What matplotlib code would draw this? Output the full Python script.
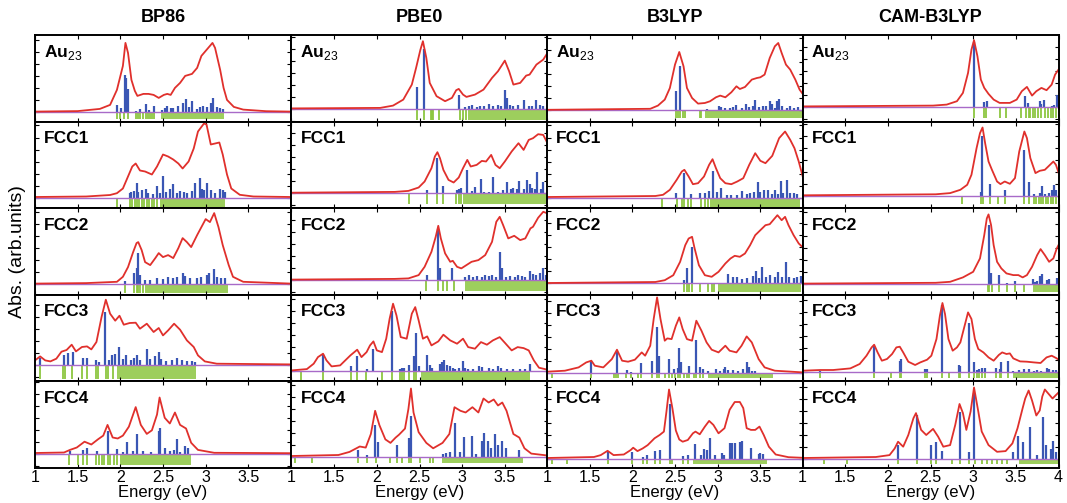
import matplotlib
matplotlib.use("Agg")
import matplotlib.pyplot as plt
from matplotlib.ticker import MultipleLocator, FixedLocator, FixedFormatter

plt.rcParams['font.family'] = ['Liberation Sans', 'DejaVu Sans']
plt.rcParams['mathtext.fontset'] = 'custom'
plt.rcParams['mathtext.rm'] = 'Liberation Sans'
plt.rcParams['mathtext.bf'] = 'Liberation Sans:bold'

FUNCTIONALS = ["BP86", "PBE0", "B3LYP", "CAM-B3LYP"]
CLUSTERS = [r"$\mathbf{Au}_{\mathrm{23}}$", "FCC1", "FCC2", "FCC3", "FCC4"]
XTICKS = [1, 1.5, 2, 2.5, 3, 3.5, 4]
XTICKLABELS = ["1", "1.5", "2", "2.5", "3", "3.5", "4"]

# ---- spectra: (energy eV, absorbance arb.) ----
# red = broadened spectrum, blue = oscillator strengths, green = all transitions

# BP86
bp86_au23_line = [(1.0, 0.3), (1.5, 0.8), (1.76, 3), (1.88, 7), (1.96, 22), (2.03, 46), (2.06, 69), (2.09, 59),
                  (2.13, 32), (2.17, 21), (2.20, 16), (2.27, 18), (2.33, 18), (2.39, 17), (2.45, 14), (2.51, 17),
                  (2.55, 18), (2.59, 17), (2.64, 24), (2.70, 29), (2.76, 36), (2.84, 38), (2.90, 44), (2.95, 56),
                  (3.01, 62), (3.05, 66), (3.08, 69), (3.11, 64), (3.17, 42), (3.21, 24), (3.25, 12), (3.33, 5),
                  (3.44, 2.3), (3.71, 0.7), (4.0, 0.3)]
bp86_au23_sticks = [(1.965, 7), (2.01, 3.7), (2.05, 37), (2.07, 34), (2.09, 23), (2.18, 1.3), (2.23, 3), (2.30, 8),
                    (2.34, 2.3), (2.39, 6), (2.49, 2.3), (2.52, 4), (2.55, 6), (2.59, 3.7), (2.62, 4), (2.68, 6),
                    (2.73, 9), (2.77, 13), (2.80, 5), (2.84, 11), (2.90, 3.3), (2.93, 4.7), (2.97, 5.7), (3.01, 5),
                    (3.06, 9), (3.09, 14), (3.13, 5), (3.17, 4), (3.20, 3.3)]
bp86_au23_green = [1.965, 2.0, 2.04, 2.09, 2.18, 2.21, 2.23, 2.27, 2.30, 2.32, 2.35, 2.37, 2.39]
bp86_au23_bands = [(2.48, 3.21)]

bp86_fcc1_line = [(1.0, 0.5), (1.6, 1), (1.88, 2.5), (1.96, 4.3), (2.03, 9), (2.09, 21), (2.14, 31), (2.18, 34),
                  (2.23, 27), (2.29, 26), (2.37, 23), (2.43, 31), (2.50, 43), (2.56, 41), (2.62, 38), (2.68, 34),
                  (2.73, 29), (2.80, 36), (2.86, 49), (2.91, 66), (2.98, 74), (3.01, 73), (3.06, 53), (3.11, 54),
                  (3.16, 55), (3.20, 43), (3.25, 23), (3.30, 9), (3.40, 2.7), (3.56, 1), (4.0, 0.5)]
bp86_fcc1_sticks = [(2.11, 5), (2.13, 6), (2.16, 6.7), (2.19, 15), (2.21, 6), (2.25, 7.3), (2.30, 8.7), (2.33, 5),
                    (2.38, 3.3), (2.43, 12), (2.46, 4.3), (2.50, 21.7), (2.54, 6), (2.58, 8.7), (2.62, 14),
                    (2.66, 4.3), (2.70, 6.7), (2.75, 6), (2.78, 5), (2.84, 6.7), (2.88, 15), (2.93, 20), (2.96, 8.3),
                    (2.98, 7.7), (3.02, 15), (3.06, 7.3), (3.11, 4.3), (3.17, 8.3), (3.20, 7.3), (3.23, 5.7)]
bp86_fcc1_green = [1.96, 2.11, 2.14, 2.17, 2.19, 2.22, 2.25, 2.28, 2.31, 2.34, 2.37, 2.40, 2.43]
bp86_fcc1_bands = [(2.46, 3.23)]

bp86_fcc2_line = [(1.0, 0.5), (1.6, 1), (1.96, 2.3), (2.03, 7.3), (2.09, 17), (2.15, 32), (2.19, 41), (2.21, 42),
                  (2.25, 34), (2.29, 22), (2.35, 19), (2.41, 26), (2.45, 31), (2.50, 27), (2.56, 29), (2.62, 26),
                  (2.68, 36), (2.73, 46), (2.78, 42), (2.83, 37), (2.90, 49), (2.95, 57), (3.00, 65), (3.05, 62),
                  (3.10, 71), (3.15, 57), (3.20, 39), (3.27, 19), (3.32, 7.3), (3.44, 2.3), (4.0, 0.5)]
bp86_fcc2_sticks = [(2.05, 3.3), (2.16, 11), (2.19, 16), (2.21, 31), (2.23, 9), (2.29, 4), (2.35, 4), (2.43, 5.7),
                    (2.50, 4.7), (2.56, 6.7), (2.62, 5.7), (2.66, 7), (2.73, 11), (2.76, 8.3), (2.82, 5.7),
                    (2.90, 6.3), (2.95, 7), (3.01, 9), (3.04, 10.7), (3.10, 14.7), (3.13, 7), (3.18, 6.3), (3.23, 5.7)]
bp86_fcc2_green = [2.05, 2.16, 2.19, 2.21, 2.23, 2.27]
bp86_fcc2_bands = [(2.29, 3.26)]

bp86_fcc3_line = [(1.0, 4.3), (1.06, 8.3), (1.12, 4.3), (1.18, 3.3), (1.25, 6), (1.31, 13), (1.37, 14.7), (1.43, 20),
                  (1.48, 13.3), (1.55, 17.7), (1.61, 18.3), (1.66, 15.3), (1.72, 22.7), (1.78, 47.7), (1.83, 65),
                  (1.88, 51), (1.94, 44), (1.99, 49), (2.04, 40), (2.11, 41.7), (2.18, 42), (2.23, 36), (2.31, 41),
                  (2.39, 32.7), (2.45, 36.7), (2.50, 29.3), (2.56, 34.3), (2.63, 41), (2.70, 35), (2.78, 24.3),
                  (2.86, 17.7), (2.91, 9.3), (2.99, 3.3), (3.13, 1), (4.0, 0.3)]
bp86_fcc3_sticks = [(1.06, 7), (1.34, 9.3), (1.39, 11.7), (1.44, 12.7), (1.56, 7), (1.61, 7), (1.71, 4.3),
                    (1.75, 2.7), (1.82, 53), (1.87, 5), (1.90, 9.3), (1.94, 11), (1.99, 17.7), (2.03, 6), (2.07, 9.3),
                    (2.12, 5), (2.16, 7), (2.19, 9.3), (2.23, 4.3), (2.31, 16), (2.35, 5.3), (2.41, 8.3),
                    (2.45, 12.7), (2.48, 6), (2.54, 3.3), (2.60, 4.3), (2.66, 6.7), (2.72, 4.3), (2.78, 3.7),
                    (2.84, 3.3), (2.88, 2.7)]
bp86_fcc3_green = [1.06, 1.33, 1.35, 1.43, 1.55, 1.61, 1.71, 1.74, 1.83, 1.85, 1.91]
bp86_fcc3_bands = [(1.96, 2.89)]

bp86_fcc4_line = [(1.0, 0.5), (1.34, 1), (1.41, 3.6), (1.49, 6), (1.58, 11.8), (1.66, 9), (1.74, 14.3), (1.80, 17.9),
                  (1.85, 28.6), (1.91, 16), (1.97, 15), (2.03, 17.9), (2.10, 26.8), (2.18, 46.4), (2.24, 28.6),
                  (2.31, 19.6), (2.37, 23.2), (2.43, 39), (2.46, 56), (2.52, 35.7), (2.58, 30), (2.64, 41),
                  (2.70, 28.6), (2.77, 25), (2.83, 10.7), (2.91, 3.6), (3.10, 0.7), (4.0, 0.3)]
bp86_fcc4_sticks = [(1.41, 2.5), (1.56, 3.6), (1.61, 6), (1.73, 2.5), (1.85, 23), (1.96, 4.6), (2.03, 1.8),
                    (2.08, 11.8), (2.15, 2.5), (2.19, 19.6), (2.26, 2.5), (2.36, 1.8), (2.45, 22.5), (2.47, 25.7),
                    (2.52, 5.4), (2.58, 2.9), (2.63, 3.6), (2.66, 15), (2.70, 1.8), (2.76, 7.9), (2.79, 6)]
bp86_fcc4_green = [1.40, 1.50, 1.56, 1.61, 1.72, 1.75, 1.78, 1.81, 1.85, 1.88, 1.92, 1.96]
bp86_fcc4_bands = [(2.0, 2.83)]

# PBE0
pbe0_au23_line = [(1.0, 0.5), (2.04, 1), (2.19, 3.3), (2.31, 9.3), (2.41, 24.3), (2.46, 41), (2.51, 59), (2.54, 67.7),
                  (2.58, 51), (2.62, 26), (2.70, 12.7), (2.80, 7.7), (2.88, 11), (2.93, 18.7), (2.96, 20),
                  (3.01, 14.3), (3.05, 12), (3.15, 14.3), (3.25, 19.3), (3.35, 31), (3.42, 37.7), (3.50, 48.3),
                  (3.55, 37.7), (3.60, 24.3), (3.68, 26), (3.75, 33.3), (3.79, 34.3), (3.87, 44.3), (3.95, 49.3),
                  (4.0, 56)]
pbe0_au23_sticks = [(2.47, 22), (2.55, 60), (2.96, 14.3), (3.03, 1.7), (3.08, 2.7), (3.12, 3.7), (3.17, 2),
                    (3.21, 3.3), (3.25, 3.3), (3.32, 5.3), (3.36, 3.3), (3.42, 3.7), (3.46, 3.3), (3.50, 19.3),
                    (3.53, 11), (3.56, 4.3), (3.60, 2.7), (3.65, 4.3), (3.73, 9.3), (3.78, 3.3), (3.82, 3.3),
                    (3.87, 9.3), (3.91, 4.3), (3.95, 3.3)]
pbe0_au23_green = [2.47, 2.55, 2.63, 2.65, 2.66, 2.73, 2.97, 3.01, 3.05]
pbe0_au23_bands = [(3.07, 4.0)]

pbe0_fcc1_line = [(1.0, 0.5), (2.21, 1.3), (2.37, 2.3), (2.49, 5.7), (2.56, 11.7), (2.64, 25), (2.68, 36.7), (2.71, 41),
                  (2.74, 35), (2.78, 23.3), (2.84, 13.3), (2.90, 10.7), (2.96, 15.7), (3.01, 25), (3.06, 33.3),
                  (3.10, 26.7), (3.17, 28.3), (3.23, 32.3), (3.28, 31.7), (3.34, 38.3), (3.39, 28.3), (3.44, 25),
                  (3.50, 31.7), (3.58, 41.7), (3.66, 50), (3.72, 43.3), (3.78, 53.3), (3.83, 55), (3.89, 59),
                  (3.95, 58.3), (4.0, 50)]
pbe0_fcc1_sticks = [(2.59, 3.3), (2.71, 35), (2.78, 7.7), (2.94, 3.3), (2.96, 4), (2.99, 5), (3.06, 23.3), (3.12, 2.3),
                    (3.15, 6.7), (3.22, 14), (3.26, 1.7), (3.31, 1.7), (3.36, 16), (3.42, 1.7), (3.48, 3.3),
                    (3.52, 11), (3.57, 4.3), (3.60, 5), (3.64, 4), (3.67, 12.7), (3.72, 4), (3.76, 13.3), (3.79, 9),
                    (3.82, 5), (3.85, 4), (3.88, 21), (3.92, 4.3), (3.95, 11.7)]
pbe0_fcc1_green = [2.38, 2.59, 2.71, 2.77, 2.93, 2.96, 2.99]
pbe0_fcc1_bands = [(3.01, 3.99)]

pbe0_fcc2_line = [(1.0, 0.5), (2.21, 1.2), (2.37, 1.7), (2.49, 5), (2.56, 13.3), (2.64, 28.3), (2.69, 43.3), (2.72, 54.3),
                  (2.75, 41.7), (2.80, 26.7), (2.86, 18.3), (2.89, 19.3), (2.94, 13.3), (2.99, 11.7), (3.05, 15),
                  (3.11, 18.3), (3.19, 20), (3.27, 25), (3.35, 38.3), (3.40, 58.3), (3.44, 63.3), (3.48, 55),
                  (3.54, 41.7), (3.61, 44.3), (3.68, 40), (3.74, 41.7), (3.80, 51.7), (3.83, 53.3), (3.89, 62.3),
                  (3.95, 68.3), (4.0, 66.7)]
pbe0_fcc2_sticks = [(2.59, 5), (2.72, 51), (2.74, 11.7), (2.88, 11.7), (3.03, 2.7), (3.08, 5), (3.13, 3.3), (3.17, 4.3),
                    (3.23, 2.7), (3.27, 5), (3.31, 4.3), (3.35, 5), (3.40, 3.3), (3.44, 28.3), (3.47, 11.7),
                    (3.51, 2.7), (3.56, 4.3), (3.62, 3.3), (3.66, 5), (3.70, 4.3), (3.74, 2.7), (3.79, 9), (3.83, 5.7),
                    (3.87, 5), (3.91, 6.7), (3.95, 11.7), (3.98, 5)]
pbe0_fcc2_green = [2.58, 2.72, 2.78, 2.82, 2.90]
pbe0_fcc2_bands = [(3.03, 3.99)]

pbe0_fcc3_line = [(1.0, 1), (1.18, 2.3), (1.26, 7.7), (1.31, 14.3), (1.37, 17.7), (1.41, 11), (1.47, 5), (1.57, 6),
                  (1.69, 16), (1.77, 21.7), (1.82, 14.3), (1.88, 19.3), (1.92, 26), (1.96, 30), (2.00, 21),
                  (2.06, 19.3), (2.11, 32.7), (2.15, 52.7), (2.19, 67.7), (2.23, 56), (2.28, 34.3), (2.35, 32.7),
                  (2.41, 57.7), (2.45, 64.3), (2.49, 51), (2.54, 32.7), (2.59, 35), (2.64, 26), (2.72, 30),
                  (2.78, 36.7), (2.86, 31), (2.94, 27.7), (3.01, 32.7), (3.07, 24.3), (3.15, 22.7), (3.22, 29.3),
                  (3.29, 26.7), (3.36, 31), (3.44, 34.3), (3.51, 27.7), (3.58, 21), (3.65, 24.3), (3.72, 23.3),
                  (3.78, 21), (3.84, 11), (3.90, 3.7), (4.0, 1.7)]
pbe0_fcc3_sticks = [(1.37, 17), (1.70, 5), (1.77, 15), (1.88, 2), (1.96, 22.7), (2.18, 60), (2.27, 2.7), (2.29, 3.3),
                    (2.32, 3.7), (2.38, 6), (2.44, 15), (2.46, 38.3), (2.49, 5.3), (2.59, 16.7), (2.62, 6),
                    (2.65, 3.7), (2.74, 7.7), (2.76, 9.3), (2.79, 11), (2.82, 6), (2.86, 5), (2.89, 3.7), (2.92, 2.7),
                    (2.96, 3.7), (3.01, 10), (3.03, 3.7), (3.07, 2.7), (3.13, 2.7), (3.20, 5.3), (3.23, 4.3),
                    (3.31, 3.7), (3.36, 2.7), (3.42, 5.3), (3.46, 3.7), (3.52, 2.7), (3.60, 2), (3.68, 2.7),
                    (3.74, 2), (3.79, 7)]
pbe0_fcc3_green = [1.11, 1.37, 1.70, 1.77, 1.87, 2.06, 2.18, 2.27, 2.30, 2.32, 2.38, 2.44, 2.46]
pbe0_fcc3_bands = [(2.52, 3.79)]

pbe0_fcc4_line = [(1.0, 0.5), (1.55, 1.5), (1.68, 4.6), (1.76, 8.2), (1.80, 10), (1.87, 8.9), (1.93, 22.5), (1.98, 45.7),
                  (2.03, 31.4), (2.10, 17.1), (2.16, 13.6), (2.22, 18.9), (2.26, 21.8), (2.33, 27.9), (2.37, 47.5),
                  (2.40, 68), (2.43, 44), (2.49, 24.3), (2.58, 13.6), (2.66, 8.2), (2.77, 13.6), (2.85, 22.5),
                  (2.91, 49.3), (2.98, 45.7), (3.04, 44), (3.12, 49.3), (3.19, 44), (3.25, 58), (3.31, 54),
                  (3.37, 57), (3.42, 51), (3.47, 54), (3.52, 45.7), (3.60, 22.5), (3.67, 18.9), (3.73, 8.2),
                  (3.81, 2.9), (4.0, 1)]
pbe0_fcc4_sticks = [(1.78, 6.4), (1.89, 1.8), (1.98, 31.4), (2.01, 14.3), (2.24, 11.8), (2.38, 19), (2.40, 40.4),
                    (2.77, 2.9), (2.81, 3.6), (2.86, 4.6), (2.92, 34), (2.98, 4.6), (3.02, 20), (3.12, 20.7),
                    (3.16, 2.9), (3.23, 16), (3.26, 23.2), (3.30, 15.4), (3.34, 8.2), (3.39, 22.5), (3.42, 11.8),
                    (3.47, 16), (3.51, 8.2), (3.67, 6.4)]
pbe0_fcc4_green = [1.04, 1.24, 1.78, 1.89, 1.99, 2.15, 2.24, 2.29, 2.38, 2.40, 2.51, 2.62, 2.66]
pbe0_fcc4_bands = [(2.76, 3.71)]

# B3LYP
b3lyp_au23_line = [(1.0, 0.5), (2.21, 1.5), (2.30, 4.7), (2.38, 10.7), (2.44, 22.3), (2.50, 45.7), (2.55, 58.3),
                   (2.60, 44), (2.64, 22.3), (2.70, 12.3), (2.77, 6.7), (2.85, 7.3), (2.91, 9), (2.98, 13),
                   (3.03, 14.7), (3.09, 13), (3.16, 18), (3.22, 24), (3.26, 21.3), (3.32, 23.3), (3.40, 30.7),
                   (3.46, 32.3), (3.50, 33), (3.55, 35.7), (3.61, 52.3), (3.67, 64), (3.71, 67.3), (3.75, 57.3),
                   (3.80, 45.7), (3.85, 40.7), (3.91, 30.7), (3.96, 20.7), (4.0, 16)]
b3lyp_au23_sticks = [(2.51, 19.7), (2.56, 44), (2.87, 1.3), (3.01, 4), (3.04, 3.3), (3.09, 2.3), (3.14, 2), (3.18, 3.3),
                     (3.22, 5.7), (3.28, 2.3), (3.33, 6.3), (3.37, 3.3), (3.41, 4), (3.44, 10), (3.48, 3.3),
                     (3.53, 4), (3.57, 4), (3.61, 9), (3.64, 6.3), (3.67, 2.3), (3.70, 9), (3.72, 11.7), (3.75, 4.7),
                     (3.81, 2.3), (3.85, 4), (3.89, 2.3), (3.94, 3.3)]
b3lyp_au23_green = [2.51, 2.54, 2.56, 2.59, 2.62, 2.79, 2.81]
b3lyp_au23_bands = [(2.85, 3.99)]

b3lyp_fcc1_line = [(1.0, 0.5), (2.27, 1.5), (2.36, 2.7), (2.44, 7.7), (2.52, 17.7), (2.58, 26), (2.61, 27.7),
                   (2.66, 21), (2.71, 13.3), (2.77, 14.3), (2.84, 21), (2.90, 32.7), (2.94, 38.3), (2.98, 29.3),
                   (3.03, 19.3), (3.09, 14.3), (3.16, 13.3), (3.23, 16), (3.30, 19.3), (3.37, 32.7), (3.44, 44.3),
                   (3.50, 36.7), (3.56, 34.3), (3.64, 41.7), (3.72, 59.3), (3.79, 66), (3.85, 57.7), (3.90, 49.3),
                   (3.95, 36), (4.0, 20)]
b3lyp_fcc1_sticks = [(2.51, 5), (2.61, 24.3), (2.69, 3.3), (2.79, 4.3), (2.85, 4.3), (2.90, 6.7), (2.94, 26.7),
                     (2.99, 6), (3.04, 10), (3.11, 2.7), (3.16, 2.7), (3.23, 2.7), (3.28, 6.7), (3.34, 3.3), (3.38, 5),
                     (3.42, 6), (3.47, 15.3), (3.50, 6), (3.54, 7.7), (3.59, 7.7), (3.64, 3.3), (3.67, 7.7),
                     (3.71, 3.3), (3.74, 16.7), (3.77, 4.3), (3.81, 17.7), (3.85, 4.3), (3.89, 5), (3.93, 3.3)]
b3lyp_fcc1_green = [2.35, 2.52, 2.58, 2.61, 2.65, 2.69, 2.81, 2.85, 2.89]
b3lyp_fcc1_bands = [(2.91, 3.97)]

b3lyp_fcc2_line = [(1.0, 0.5), (2.27, 1.5), (2.38, 3.3), (2.48, 8.3), (2.56, 21.7), (2.62, 38.3), (2.66, 45),
                   (2.70, 46.7), (2.73, 35), (2.78, 18.3), (2.85, 8.3), (2.93, 6.7), (3.01, 11.7), (3.09, 20),
                   (3.15, 25), (3.20, 27.7), (3.26, 26.7), (3.32, 30), (3.38, 38.3), (3.44, 48.3), (3.50, 53.3),
                   (3.56, 58.3), (3.61, 59.3), (3.65, 63.3), (3.70, 68.3), (3.75, 63.3), (3.79, 66.7), (3.83, 58.3),
                   (3.89, 48.3), (3.95, 40), (4.0, 36)]
b3lyp_fcc2_sticks = [(2.60, 3.3), (2.64, 15.7), (2.70, 36.7), (3.12, 9.3), (3.18, 6), (3.23, 6.7), (3.28, 4.3),
                     (3.34, 5.7), (3.41, 7.7), (3.45, 12.3), (3.48, 5), (3.52, 16), (3.57, 6), (3.61, 8.3),
                     (3.67, 6.7), (3.71, 11.7), (3.75, 6.7), (3.80, 21.7), (3.84, 6), (3.89, 5), (3.93, 6), (3.98, 7.3)]
b3lyp_fcc2_green = [2.60, 2.64, 2.66, 2.70, 2.79, 2.89, 2.93, 2.96]
b3lyp_fcc2_bands = [(3.0, 3.98)]

b3lyp_fcc3_line = [(1.0, 1.7), (1.21, 2.7), (1.37, 6), (1.46, 11), (1.52, 12.7), (1.56, 7.7), (1.66, 6), (1.76, 14.3),
                   (1.82, 23.7), (1.88, 12.7), (1.95, 11.7), (2.03, 13.7), (2.11, 21), (2.15, 17.7), (2.21, 27.7),
                   (2.25, 54.3), (2.29, 76), (2.33, 54.3), (2.38, 32.7), (2.41, 35), (2.46, 34.3), (2.51, 47.7),
                   (2.55, 56), (2.59, 44.3), (2.64, 34.3), (2.70, 32.7), (2.75, 52.7), (2.81, 42.7), (2.87, 31),
                   (2.93, 23.7), (3.01, 21), (3.09, 27.7), (3.14, 22.7), (3.22, 21), (3.28, 27.7), (3.34, 37),
                   (3.40, 31), (3.48, 14.3), (3.55, 6), (3.67, 2.7), (4.0, 1)]
b3lyp_fcc3_sticks = [(1.52, 12.7), (1.82, 21.7), (1.94, 3.3), (1.98, 1.7), (2.10, 10.3), (2.23, 12.7), (2.29, 46.7),
                     (2.31, 17.7), (2.43, 14.3), (2.49, 4.3), (2.53, 5), (2.55, 25), (2.57, 11.7), (2.66, 7.7),
                     (2.75, 33.3), (2.79, 6), (2.83, 4.3), (2.89, 2.7), (2.98, 4.3), (3.03, 2.7), (3.07, 4.3),
                     (3.09, 6.7), (3.12, 3.7), (3.18, 3.7), (3.24, 2.7), (3.30, 4.3), (3.34, 11), (3.37, 6),
                     (3.40, 2.7), (3.44, 2)]
b3lyp_fcc3_green = [1.06, 1.52, 1.78, 1.81, 1.83, 1.92, 1.98, 2.07, 2.10, 2.23, 2.29, 2.31, 2.38, 2.43, 2.46, 2.50,
                    2.53, 2.56, 2.60, 2.64, 2.66, 2.72, 2.75, 2.79, 2.83]
b3lyp_fcc3_bands = [(2.89, 3.65)]

b3lyp_fcc4_line = [(1.0, 0.5), (1.55, 1.5), (1.63, 3.4), (1.71, 7.7), (1.78, 3.4), (1.90, 4), (1.98, 8.4), (2.01, 10.8),
                   (2.06, 7.4), (2.12, 10), (2.18, 13.4), (2.26, 20.2), (2.32, 23.5), (2.37, 26.9), (2.40, 47),
                   (2.43, 69), (2.47, 50), (2.51, 28), (2.55, 19), (2.59, 16.8), (2.65, 18.5), (2.71, 25.2),
                   (2.74, 26.9), (2.79, 24.2), (2.85, 31.9), (2.90, 37.6), (2.95, 33.6), (3.01, 25.2), (3.08, 30.3),
                   (3.14, 48.7), (3.20, 56.5), (3.26, 56.5), (3.30, 50.4), (3.34, 30.3), (3.39, 28.6), (3.44, 28.6),
                   (3.49, 31.9), (3.54, 23.5), (3.60, 11.8), (3.68, 4), (3.83, 1.3), (4.0, 0.7)]
b3lyp_fcc4_sticks = [(1.71, 6.7), (2.0, 6.7), (2.12, 1.7), (2.17, 3.4), (2.26, 7.7), (2.32, 8.4), (2.44, 55),
                     (2.59, 2.4), (2.65, 3.4), (2.74, 14.1), (2.80, 3.4), (2.84, 10), (2.87, 8.4), (2.91, 20.2),
                     (2.97, 4), (3.05, 5.7), (3.07, 4), (3.14, 15.1), (3.17, 15.1), (3.20, 15.1), (3.26, 16.8),
                     (3.28, 17.8), (3.39, 10.8), (3.48, 5), (3.50, 5.7), (3.53, 5)]
b3lyp_fcc4_green = [1.06, 1.24, 1.71, 2.00, 2.12, 2.17, 2.26, 2.32, 2.44, 2.47, 2.59, 2.65]
b3lyp_fcc4_bands = [(2.71, 3.58)]

# CAM-B3LYP
cam_au23_line = [(1.0, 0.5), (2.53, 1.3), (2.69, 2.3), (2.81, 5.7), (2.88, 14), (2.94, 34), (2.98, 57.3), (3.01, 66.7),
                 (3.05, 50.7), (3.09, 27.3), (3.13, 19), (3.18, 13), (3.24, 7.3), (3.31, 4), (3.43, 4), (3.51, 7.3),
                 (3.57, 15.7), (3.63, 20), (3.69, 11.3), (3.74, 15.7), (3.80, 19), (3.86, 16.7), (3.92, 22.3),
                 (3.96, 32.3), (4.0, 37.3)]
cam_au23_sticks = [(3.01, 64.7), (3.13, 4.7), (3.16, 5.7), (3.61, 11.3), (3.64, 4), (3.78, 5.7), (3.80, 3.3),
                   (3.83, 7.3), (3.92, 1.3), (3.95, 2.3), (3.98, 12.3)]
cam_au23_green = [3.01, 3.13, 3.15, 3.31, 3.39, 3.56, 3.62, 3.65, 3.67, 3.70, 3.72, 3.76, 3.80, 3.84, 3.88, 3.91,
                  3.94, 3.97, 4.0]
cam_au23_bands = []

cam_fcc1_line = [(1.0, 0.5), (2.56, 1.5), (2.73, 2.7), (2.85, 6), (2.93, 11), (2.98, 21), (3.04, 47.7), (3.08, 62.7),
                 (3.11, 68.3), (3.14, 52.7), (3.18, 34.3), (3.22, 26), (3.28, 14.3), (3.32, 11.7), (3.37, 14.3),
                 (3.43, 12), (3.49, 17.7), (3.54, 44.3), (3.60, 64.3), (3.63, 57.7), (3.67, 37.7), (3.73, 22.7),
                 (3.78, 25), (3.84, 26), (3.88, 29.3), (3.94, 34.3), (3.97, 31), (4.0, 23.3)]
cam_fcc1_sticks = [(3.09, 4.3), (3.10, 60.3), (3.20, 12), (3.37, 6), (3.59, 46), (3.65, 13.7), (3.71, 2), (3.78, 2.7),
                   (3.81, 10), (3.84, 1.7), (3.89, 3.3), (3.92, 6), (3.95, 11), (3.97, 6)]
cam_fcc1_green = [2.87, 3.09, 3.11, 3.20, 3.29, 3.37, 3.59, 3.65, 3.71, 3.74, 3.77, 3.80, 3.82, 3.85, 3.88, 3.91,
                  3.94, 3.97, 4.0]
cam_fcc1_bands = []

cam_fcc2_line = [(1.0, 0.5), (2.56, 1.3), (2.73, 2.3), (2.88, 6.7), (3.00, 12.3), (3.08, 25.7), (3.13, 49), (3.16, 65.7),
                 (3.18, 69.7), (3.21, 59), (3.24, 39), (3.28, 22.3), (3.33, 15.7), (3.39, 10.7), (3.47, 9),
                 (3.53, 9), (3.58, 6.7), (3.63, 9), (3.69, 17.3), (3.75, 29), (3.79, 35), (3.84, 29), (3.89, 22.3),
                 (3.94, 25.7), (3.98, 35.7), (4.0, 39)]
cam_fcc2_sticks = [(3.18, 59), (3.21, 10.7), (3.30, 9), (3.40, 1.3), (3.49, 3), (3.70, 4.7), (3.73, 2.3), (3.75, 3),
                   (3.78, 8), (3.81, 9.7), (3.86, 4), (3.89, 4.7), (3.98, 5.7)]
cam_fcc2_green = [3.17, 3.19, 3.22, 3.30, 3.40, 3.49, 3.60]
cam_fcc2_bands = [(3.70, 4.0)]

cam_fcc3_line = [(1.0, 1), (1.21, 1.7), (1.36, 1.7), (1.56, 3.3), (1.67, 7.7), (1.75, 16), (1.81, 24.3), (1.84, 27),
                 (1.88, 19.3), (1.93, 11), (1.99, 12.7), (2.05, 17.7), (2.10, 24.3), (2.14, 25), (2.18, 19.3),
                 (2.24, 10), (2.32, 6.7), (2.38, 9.3), (2.46, 12), (2.51, 16), (2.57, 32.7), (2.61, 56),
                 (2.64, 68.7), (2.67, 57.7), (2.71, 32.7), (2.76, 21), (2.81, 24.3), (2.85, 29.3), (2.90, 46),
                 (2.94, 59.3), (2.98, 52.7), (3.02, 32.7), (3.06, 22.7), (3.12, 19.3), (3.18, 14.3), (3.24, 11),
                 (3.30, 16.7), (3.34, 19.3), (3.39, 17.7), (3.43, 18.3), (3.47, 13.3), (3.55, 10.3), (3.63, 10),
                 (3.71, 9.3), (3.79, 8.7), (3.86, 14.3), (3.92, 16), (3.98, 13.3), (4.0, 12)]
cam_fcc3_sticks = [(1.21, 1), (1.84, 26), (2.14, 11), (2.16, 12.7), (2.43, 2.7), (2.46, 2.7), (2.64, 66.7), (2.83, 7),
                   (2.84, 6), (2.95, 48.7), (3.01, 10), (3.04, 2), (3.07, 2.7), (3.10, 3.3), (3.14, 3.3), (3.27, 3.3),
                   (3.31, 2.7), (3.33, 9.3), (3.41, 11), (3.47, 1), (3.54, 2), (3.59, 2.7), (3.65, 2.7), (3.71, 1),
                   (3.75, 1.7), (3.80, 1), (3.86, 3.3), (3.89, 2.7), (3.93, 2), (3.97, 2)]
cam_fcc3_green = [1.21, 1.84, 2.04, 2.14, 2.16, 2.43, 2.46, 2.64, 2.72, 2.83, 2.84, 2.95, 3.01, 3.04, 3.07, 3.10,
                  3.14, 3.27, 3.31, 3.33, 3.41]
cam_fcc3_bands = [(3.47, 4.0)]

cam_fcc4_line = [(1.0, 0.5), (1.86, 1.5), (2.02, 3.4), (2.08, 10), (2.12, 16.8), (2.18, 11.8), (2.24, 23.5),
                 (2.30, 40.3), (2.33, 45.4), (2.39, 28.6), (2.45, 23.5), (2.53, 29.6), (2.59, 21.8), (2.65, 11.8),
                 (2.73, 13.4), (2.79, 33.6), (2.84, 54.5), (2.88, 45.4), (2.92, 28.6), (2.97, 47), (3.01, 71),
                 (3.06, 47), (3.10, 27), (3.18, 13.4), (3.28, 6.7), (3.38, 7.4), (3.46, 15.1), (3.52, 30.3),
                 (3.58, 50.4), (3.61, 60), (3.65, 68), (3.69, 58), (3.74, 43), (3.78, 48), (3.81, 62), (3.84, 69),
                 (3.89, 64), (3.93, 60), (4.0, 66)]
cam_fcc4_sticks = [(2.12, 13.4), (2.34, 43.7), (2.51, 13.4), (2.56, 16.8), (2.64, 7.4), (2.84, 47), (2.95, 6.7),
                   (3.01, 66), (3.47, 6.7), (3.53, 22.8), (3.58, 16.8), (3.67, 32), (3.75, 3.4), (3.82, 41.3),
                   (3.85, 13.4), (3.91, 10), (3.93, 17.5), (3.97, 6.7)]
cam_fcc4_green = [1.25, 1.52, 2.12, 2.34, 2.51, 2.56, 2.75, 2.84, 2.95, 3.02, 3.10, 3.16, 3.22, 3.28, 3.34, 3.40]
cam_fcc4_bands = [(3.54, 4.0)]

SPECTRA = [
    [(bp86_au23_line, bp86_au23_sticks, bp86_au23_green, bp86_au23_bands),
     (bp86_fcc1_line, bp86_fcc1_sticks, bp86_fcc1_green, bp86_fcc1_bands),
     (bp86_fcc2_line, bp86_fcc2_sticks, bp86_fcc2_green, bp86_fcc2_bands),
     (bp86_fcc3_line, bp86_fcc3_sticks, bp86_fcc3_green, bp86_fcc3_bands),
     (bp86_fcc4_line, bp86_fcc4_sticks, bp86_fcc4_green, bp86_fcc4_bands)],
    [(pbe0_au23_line, pbe0_au23_sticks, pbe0_au23_green, pbe0_au23_bands),
     (pbe0_fcc1_line, pbe0_fcc1_sticks, pbe0_fcc1_green, pbe0_fcc1_bands),
     (pbe0_fcc2_line, pbe0_fcc2_sticks, pbe0_fcc2_green, pbe0_fcc2_bands),
     (pbe0_fcc3_line, pbe0_fcc3_sticks, pbe0_fcc3_green, pbe0_fcc3_bands),
     (pbe0_fcc4_line, pbe0_fcc4_sticks, pbe0_fcc4_green, pbe0_fcc4_bands)],
    [(b3lyp_au23_line, b3lyp_au23_sticks, b3lyp_au23_green, b3lyp_au23_bands),
     (b3lyp_fcc1_line, b3lyp_fcc1_sticks, b3lyp_fcc1_green, b3lyp_fcc1_bands),
     (b3lyp_fcc2_line, b3lyp_fcc2_sticks, b3lyp_fcc2_green, b3lyp_fcc2_bands),
     (b3lyp_fcc3_line, b3lyp_fcc3_sticks, b3lyp_fcc3_green, b3lyp_fcc3_bands),
     (b3lyp_fcc4_line, b3lyp_fcc4_sticks, b3lyp_fcc4_green, b3lyp_fcc4_bands)],
    [(cam_au23_line, cam_au23_sticks, cam_au23_green, cam_au23_bands),
     (cam_fcc1_line, cam_fcc1_sticks, cam_fcc1_green, cam_fcc1_bands),
     (cam_fcc2_line, cam_fcc2_sticks, cam_fcc2_green, cam_fcc2_bands),
     (cam_fcc3_line, cam_fcc3_sticks, cam_fcc3_green, cam_fcc3_bands),
     (cam_fcc4_line, cam_fcc4_sticks, cam_fcc4_green, cam_fcc4_bands)],
]

# ---- layout (pixels of the 1067x503 figure) ----
W, H = 1067, 503
COL_LEFT = [35, 291.5, 547, 802.5]
COL_W = 256
ROW_TOP = 35
ROW_H = 86.6
# per panel: height of baseline above the panel bottom, length of green sticks (same units as data)
BASE = [[9.7, 10.7, 10.7, 16.7, 14.5],
        [12.7, 15, 14.7, 10, 11.5],
        [11.3, 10.7, 11.3, 8, 9.5],
        [14.7, 12.4, 10.7, 9.7, 9.5]]
GREEN_LEN = [[7, 9, 9, 14.7, 11],
             [11.3, 11, 11.4, 8.3, 6],
             [8, 9, 9, 4.7, 5],
             [11.3, 8.3, 7.7, 6.3, 5]]

RED = "#e0302c"
BLUE = "#3a56b4"
GREEN = "#8cc640"
PURPLE = "#a86ac8"

fig = plt.figure(figsize=(W / 100, H / 100), dpi=100)

for c in range(4):
    for r in range(5):
        left = COL_LEFT[c] / W
        bottom = 1 - (ROW_TOP + (r + 1) * ROW_H) / H
        ax = fig.add_axes([left, bottom, COL_W / W, ROW_H / H])
        line, sticks, green, bands = SPECTRA[c][r]
        b = BASE[c][r]
        g = GREEN_LEN[c][r]

        for e0, e1 in bands:
            ax.fill_between([e0, e1], -g, 0, color=GREEN, linewidth=0, alpha=0.85)
        ax.vlines(green, -g, 0, color=GREEN, linewidth=1.3)
        se = [s[0] for s in sticks]
        sh = [s[1] for s in sticks]
        ax.vlines(se, 0, sh, color=BLUE, linewidth=1.6)
        ax.axhline(0, color=PURPLE, linewidth=1.0)
        ax.plot([p[0] for p in line], [p[1] for p in line], color=RED, linewidth=1.3)

        ax.set_xlim(1, 4)
        ax.set_ylim(-b, ROW_H - b)
        for sp in ax.spines.values():
            sp.set_linewidth(1.4)
        ax.xaxis.set_major_locator(FixedLocator(XTICKS))
        ax.yaxis.set_major_locator(MultipleLocator(12))
        ax.tick_params(direction="in", top=True, right=True, length=3, width=0.8,
                       labelleft=False, labelsize=11.5, pad=1.5)
        if r == 4:
            labels = XTICKLABELS if c == 3 else XTICKLABELS[:-1] + [""]
            ax.xaxis.set_major_formatter(FixedFormatter(labels))
            ax.set_xlabel("Energy (eV)", fontsize=12, labelpad=0)
        else:
            ax.tick_params(labelbottom=False)
        if r == 0:
            ax.set_title(FUNCTIONALS[c], fontsize=13, fontweight="bold", pad=9)
        ax.text(0.035, 0.75, CLUSTERS[r], transform=ax.transAxes, fontsize=12.5,
                fontweight="bold", ha="left", va="baseline")

fig.text(18 / W, 0.5, "Abs. (arb.units)", rotation=90, ha="center", va="center", fontsize=14)

fig.savefig("out.png", dpi=100)
